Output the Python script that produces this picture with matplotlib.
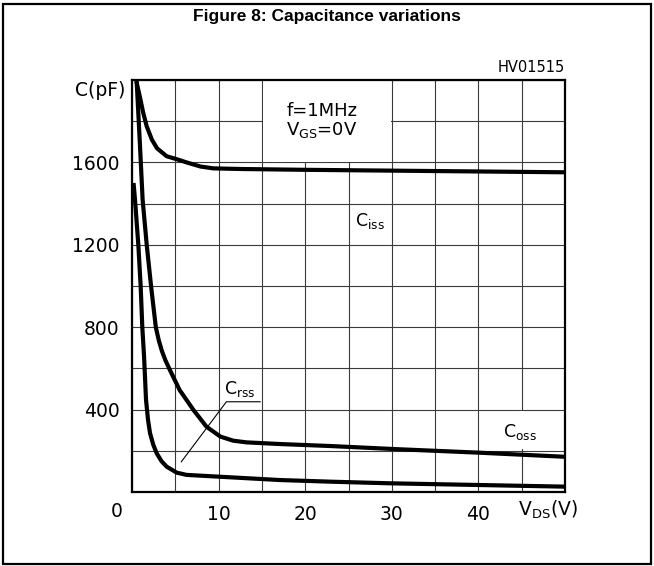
import matplotlib
matplotlib.use("Agg")
import matplotlib.pyplot as plt
from matplotlib.patches import Rectangle

plt.rcParams['font.family'] = ['DejaVu Sans']
plt.rcParams['mathtext.fontset'] = 'dejavusans'

# VDS (V) vs capacitance (pF)
v_iss = [0.55, 0.9, 1.3, 1.7, 2.3, 2.9, 4.0, 5.2, 6.3, 7.9, 9.4, 12.5, 20, 30, 40, 50]
c_iss = [1985, 1920, 1840, 1775, 1710, 1668, 1630, 1615, 1600, 1580, 1571, 1568, 1564, 1560, 1556, 1552]

v_oss = [0.55, 0.9, 1.23, 1.7, 2.2, 2.75, 3.1, 3.45, 3.85, 4.4, 5.5, 7.1, 8.6, 10.2, 11.7, 13.2, 17, 23, 30, 40, 50]
c_oss = [1985, 1700, 1417, 1200, 1000, 800, 735, 685, 640, 590, 495, 398, 317, 269, 249, 241, 233, 223, 209, 191, 171]

v_rss = [0.2, 0.35, 0.73, 1.0, 1.19, 1.39, 1.62, 1.85, 2.08, 2.45, 2.85, 3.4, 4.0, 5.16, 6.3, 10.2, 17.1, 23, 30, 40, 50]
c_rss = [1490, 1417, 1200, 1000, 800, 660, 447, 350, 286, 230, 188, 150, 123, 94, 83, 74, 58, 50, 42, 34, 26]

# leader line of the Crss label
lead_x = [5.7, 10.9, 14.8]
lead_y = [147, 438, 438]

x_ticks = [10, 20, 30, 40]
y_ticks = [400, 800, 1200, 1600]

fig = plt.figure(figsize=(6.54, 5.66), dpi=100)
ax = fig.add_axes([132/654, 74/566, 433/654, 412/566])

ax.set_xlim(0, 50)
ax.set_ylim(0, 2000)

# grid every 5 V / 200 pF
ax.set_xticks(range(0, 51, 5), minor=True)
ax.set_yticks(range(0, 2001, 200), minor=True)
ax.set_xticks(x_ticks)
ax.set_yticks(y_ticks)
ax.grid(which='both', color='#3a3a3a', lw=0.8)
ax.tick_params(which='both', length=0, labelsize=13.5, pad=9)
for s in ax.spines.values():
    s.set_linewidth(1.6)

# areas where the grid is blanked out
ax.add_patch(Rectangle((15.1, 1604), 14.8, 396, fc='white', ec='none', zorder=1.6))
ax.add_patch(Rectangle((44.7, 208), 0.6, 184, fc='white', ec='none', zorder=1.6))

ax.plot(v_iss, c_iss, color='black', lw=3, zorder=3, solid_joinstyle='round')
ax.plot(v_oss, c_oss, color='black', lw=3, zorder=3, solid_joinstyle='round')
ax.plot(v_rss, c_rss, color='black', lw=3, zorder=3, solid_joinstyle='round')
ax.plot(lead_x, lead_y, color='black', lw=0.8, zorder=3)

ax.text(25.75, 1315, r'C$_{\mathregular{iss}}$', fontsize=12.5, va='center', zorder=4)
ax.text(42.8, 290, r'C$_{\mathregular{oss}}$', fontsize=12.5, va='center', zorder=4)
ax.text(10.6, 500, r'C$_{\mathregular{rss}}$', fontsize=12.5, va='center', zorder=4)

ax.text(17.8, 1850, 'f=1MHz', fontsize=13, va='center', zorder=4)
ax.text(17.8, 1757, r'V$_{\mathregular{GS}}$=0V', fontsize=13, va='center', zorder=4)

ax.text(-0.8, 1947, 'C(pF)', fontsize=13.5, ha='right', va='center', clip_on=False)
ax.text(-1.73, -97, '0', fontsize=13.5, ha='center', va='center', clip_on=False)
ax.text(44.6, -87, r'V$_{\mathregular{DS}}$(V)', fontsize=13.5, ha='left', va='center', clip_on=False)
ax.text(1.0, 1.012, 'HV01515', fontsize=10.5, ha='right', va='bottom', transform=ax.transAxes)

fig.text(0.5, 1 - 17/566, 'Figure 8: Capacitance variations', fontsize=12.5,
         fontweight='bold', family='Liberation Sans', ha='center', va='center')
fig.patches.append(Rectangle((3/654, 2/566), 648/654, 560/566, transform=fig.transFigure,
                             fill=False, ec='black', lw=1.6))

fig.savefig('out.png', dpi=100)
